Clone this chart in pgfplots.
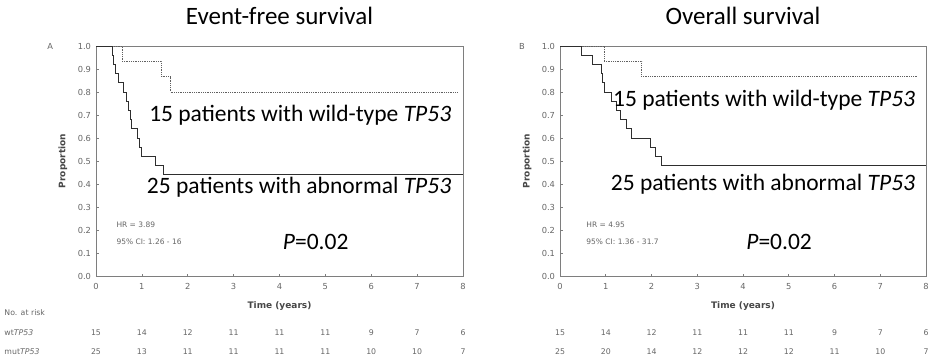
\documentclass[border=0pt]{standalone}
\usepackage{pgfplots}
\pgfplotsset{compat=1.18}
\usepackage{fontspec}
\setmainfont{Carlito}
\newfontfamily\sm{DejaVu Sans}
\definecolor{framegray}{HTML}{7E7E7E}
\definecolor{txtgray}{HTML}{666666}
\definecolor{curvedark}{HTML}{2E2E2E}
\definecolor{curvewt}{HTML}{606060}
\newcommand{\bigf}{\fontsize{23.5}{28}\selectfont}
\newcommand{\titf}{\fontsize{25}{30}\selectfont}
\newcommand{\tickf}{\sm\fontsize{8.3}{10}\selectfont}
\newcommand{\hrf}{\sm\fontsize{7.5}{9}\selectfont}
\newcommand{\riskf}{\sm\fontsize{7.8}{9}\selectfont}
\pgfplotsset{kmaxis/.style={
  scale only axis, width=367pt, height=230pt,
  xmin=0, xmax=8, ymin=0, ymax=1,
  clip=false,
  xtick={0,1,2,3,4,5,6,7,8},
  ytick={0,0.1,0.2,0.3,0.4,0.5,0.6,0.7,0.8,0.9,1.0},
  /pgf/number format/assume math mode=true,
  yticklabel style={/pgf/number format/fixed, /pgf/number format/precision=1, /pgf/number format/fixed zerofill, font=\tickf, text=txtgray, xshift=-1.5pt},
  xticklabel style={font=\tickf, text=txtgray, yshift=-4pt},
  axis line style={framegray, line width=0.9pt},
  tick style={framegray, line width=0.6pt},
  major tick length=2.5pt,
  tick pos=left, tick align=inside,
  xlabel={Time (years)},
  xlabel style={font=\sm\bfseries\fontsize{9}{11}\selectfont, text=txtgray!70!black, at={(axis description cs:0.5,-0.13)}, anchor=center},
  ylabel={Proportion},
  ylabel style={font=\sm\bfseries\fontsize{9}{11}\selectfont, text=txtgray!70!black, at={(axis description cs:-0.09,0.5)}, anchor=center},
  title style={font=\titf, at={(axis description cs:0.5,1)}, anchor=center, yshift=24pt},
  risk/.style={draw=none, mark=none, nodes near coords, point meta=explicit symbolic,
    nodes near coords style={anchor=center, font=\riskf, text=txtgray}},
}}
\begin{document}
\begin{tikzpicture}
\useasboundingbox (0,0) rectangle (928pt,359pt);
% ---------------- Panel A ----------------
\begin{axis}[kmaxis, at={(96pt,83pt)}, anchor=south west, title={Event-free survival}]
\addplot[const plot, curvewt, line width=0.8pt, densely dotted] coordinates {
 (0,1) (0.57,0.933) (1.43,0.867) (1.62,0.8) (7.87,0.8)};
\addplot[const plot, curvedark, line width=0.8pt] coordinates {
 (0,1) (0.35,0.96) (0.38,0.92) (0.42,0.88) (0.49,0.84) (0.60,0.80) (0.66,0.76)
 (0.71,0.72) (0.75,0.68) (0.78,0.64) (0.91,0.60) (0.94,0.56) (1.00,0.52)
 (1.29,0.48) (1.47,0.44) (8,0.44)};
\addplot[risk] coordinates {(0,-0.248)[15] (1,-0.248)[14] (2,-0.248)[12] (3,-0.248)[11] (4,-0.248)[11] (5,-0.248)[11] (6,-0.248)[9] (7,-0.248)[7] (8,-0.248)[6]};
\addplot[risk] coordinates {(0,-0.33)[25] (1,-0.33)[13] (2,-0.33)[11] (3,-0.33)[11] (4,-0.33)[11] (5,-0.33)[11] (6,-0.33)[10] (7,-0.33)[10] (8,-0.33)[7]};
\node[anchor=east, font=\bigf] at (axis cs:7.82,0.70) {15 patients with wild-type \textit{TP53}};
\node[anchor=east, font=\bigf] at (axis cs:7.82,0.385) {25 patients with abnormal \textit{TP53}};
\node[font=\bigf] at (axis cs:4.79,0.15) {\textit{P}=0.02};
\node[anchor=west, font=\hrf, text=txtgray] at (axis cs:0.37,0.222) {HR = 3.89};
\node[anchor=west, font=\hrf, text=txtgray] at (axis cs:0.37,0.148) {95\% CI: 1.26 - 16};
\node[font=\tickf, text=txtgray] at (axis description cs:-0.125,1) {A};
\node[anchor=west, font=\riskf, text=txtgray] at (axis description cs:-0.259,-0.161) {No. at risk};
\node[anchor=west, font=\riskf, text=txtgray] at (axis description cs:-0.259,-0.248) {wt\textit{TP53}};
\node[anchor=west, font=\riskf, text=txtgray] at (axis description cs:-0.259,-0.33) {mut\textit{TP53}};
\end{axis}
% ---------------- Panel B ----------------
\begin{axis}[kmaxis, at={(560pt,83pt)}, anchor=south west, width=366pt, title={Overall survival}]
\addplot[const plot, curvewt, line width=0.8pt, densely dotted] coordinates {
 (0,1) (0.96,0.933) (1.79,0.867) (7.8,0.867)};
\addplot[const plot, curvedark, line width=0.8pt] coordinates {
 (0,1) (0.47,0.96) (0.70,0.92) (0.90,0.88) (0.93,0.84) (0.96,0.80) (1.12,0.76)
 (1.24,0.72) (1.32,0.68) (1.46,0.64) (1.57,0.60) (1.97,0.56) (2.08,0.52)
 (2.22,0.48) (8,0.48)};
\addplot[risk] coordinates {(0,-0.248)[15] (1,-0.248)[14] (2,-0.248)[12] (3,-0.248)[11] (4,-0.248)[11] (5,-0.248)[11] (6,-0.248)[9] (7,-0.248)[7] (8,-0.248)[6]};
\addplot[risk] coordinates {(0,-0.33)[25] (1,-0.33)[20] (2,-0.33)[14] (3,-0.33)[12] (4,-0.33)[12] (5,-0.33)[12] (6,-0.33)[11] (7,-0.33)[10] (8,-0.33)[7]};
\node[anchor=east, font=\bigf] at (axis cs:7.84,0.765) {15 patients with wild-type \textit{TP53}};
\node[anchor=east, font=\bigf] at (axis cs:7.84,0.40) {25 patients with abnormal \textit{TP53}};
\node[font=\bigf] at (axis cs:4.79,0.15) {\textit{P}=0.02};
\node[anchor=west, font=\hrf, text=txtgray] at (axis cs:0.5,0.222) {HR = 4.95};
\node[anchor=west, font=\hrf, text=txtgray] at (axis cs:0.5,0.148) {95\% CI: 1.36 - 31.7};
\node[font=\tickf, text=txtgray] at (axis description cs:-0.104,1) {B};
\end{axis}
\end{tikzpicture}
\end{document}
